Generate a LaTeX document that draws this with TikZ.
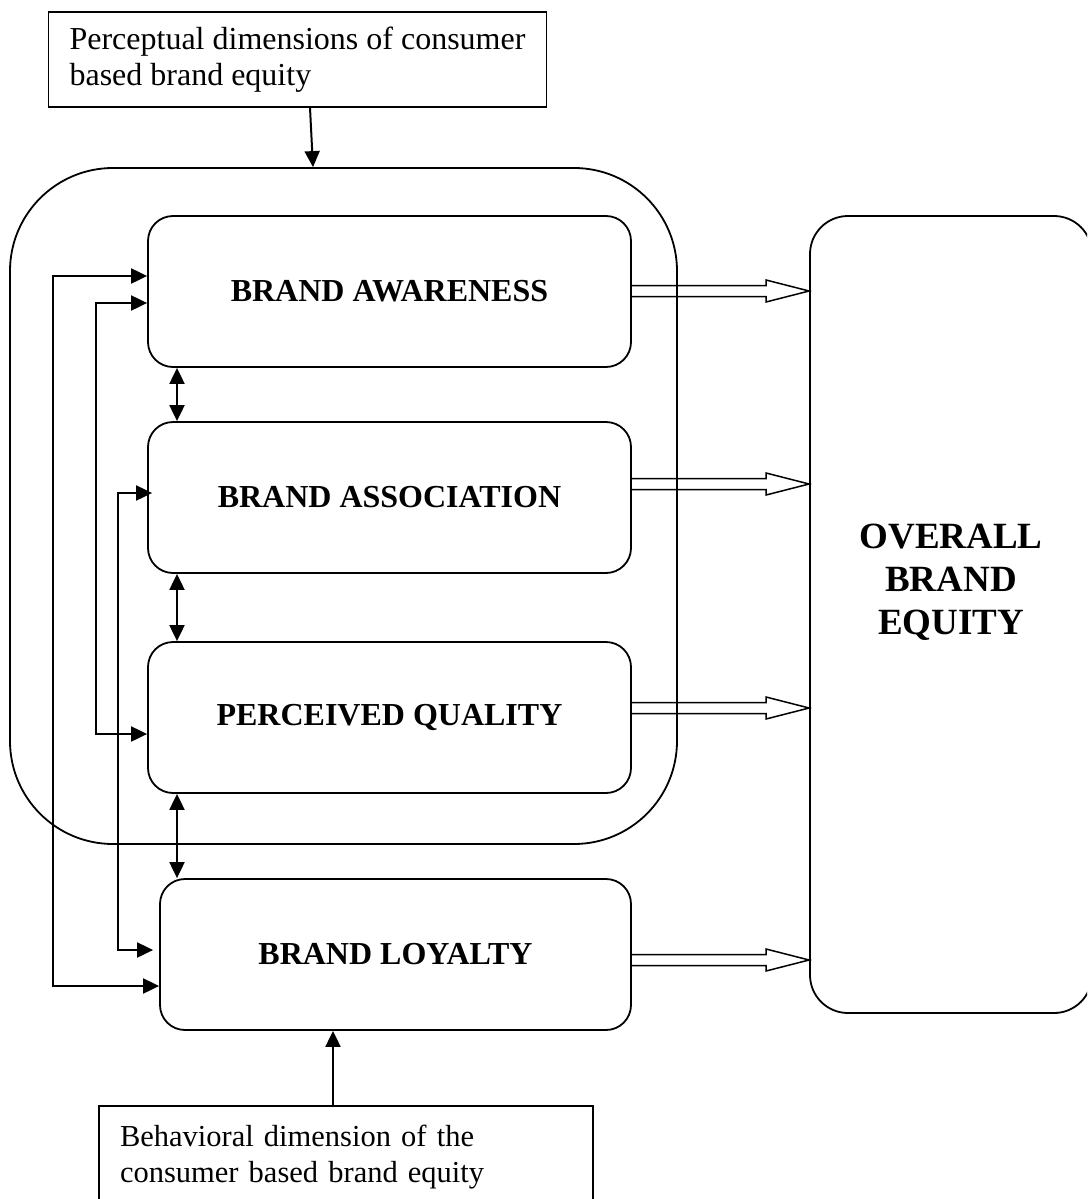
\documentclass[tikz,border=0pt]{standalone}
\usepackage{fontspec}
\setmainfont{Liberation Serif}
\usetikzlibrary{arrows.meta}
\tikzset{
  dim/.style={draw, line width=1.7pt, align=left, inner xsep=21pt, inner ysep=0pt,
    font=\fontsize{32}{36}\selectfont},
  dimbox/.style={draw, line width=1.8pt, rounded corners=25pt, inner sep=0pt,
    font=\bfseries\fontsize{32}{38}\selectfont, minimum width=483pt, minimum height=151pt},
  arr/.style={line width=2pt, -{Triangle[length=16pt,width=15pt]}},
  dbl/.style={line width=2pt, {Triangle[length=16pt,width=15pt]}-{Triangle[length=16pt,width=15pt]}},
  blkst/.style={line width=1.5pt, line join=miter},
}
\newcommand\blkarrow[3]{%
  \draw[blkst] (#1.east |- 0,#3-5.5) -- (766,#3-5.5) -- (766,#3-11) -- (#2.west |- 0,#3)
     -- (766,#3+11) -- (766,#3+5.5) -- (#1.east |- 0,#3+5.5);}
\begin{document}
\begin{tikzpicture}[x=1pt,y=-1pt]
\useasboundingbox (0,0) rectangle (1087,1199);
\fill[white] (0,0) rectangle (1087,1199);
\clip (0,0) rectangle (1087,1199);

% outer container
\node[draw, line width=1.8pt, rounded corners=103pt, minimum width=667pt, minimum height=676pt, inner sep=0pt]
  (outer) at (343.5,506) {};

% dimension boxes
\node[dimbox] (aw) at (389.5,291.5) {BRAND AWARENESS};
\node[dimbox] (as) at (389.5,497.5) {BRAND ASSOCIATION};
\node[dimbox] (pq) at (389.5,717.5) {PERCEIVED QUALITY};
\node[dimbox, minimum width=471pt] (lo) at (395.5,954.5) {BRAND LOYALTY};

% overall brand equity
\node[draw, line width=1.8pt, rounded corners=38pt, minimum width=282pt, minimum height=797pt, inner sep=0pt]
  (ov) at (951,614.5) {};
\node[align=center, font=\bfseries\fontsize{37}{43}\selectfont] (ovtext) at (951,582)
  {OVERALL\\BRAND\\EQUITY};

% text boxes
\node[dim, minimum width=497pt, minimum height=95pt] (top) at (297.5,59.5)
  {Perceptual dimensions of consumer\\based brand equity};
\node[dim, text width=452pt, minimum height=102pt, font=\fontsize{30.5}{36}\selectfont] (bot) at (346,1157)
  {Behavioral dimension of the\\consumer based brand equity};

% arrows from text boxes
\draw[arr] (top.south -| 310,0) -- (outer.north -| 313,0);
\draw[arr] (bot.north -| 333,0) -- (lo.south -| 333,0);

% vertical two-way arrows
\draw[dbl] (aw.south -| 177,0) -- (as.north -| 177,0);
\draw[dbl] (as.south -| 177,0) -- (pq.north -| 177,0);
\draw[dbl] (pq.south -| 177,0) -- (lo.north -| 177,0);

% left feedback connectors
\draw[dbl] (aw.west |- 0,276) -| (53,986) -- (lo.west |- 0,986);
\draw[dbl] (aw.west |- 0,303) -| (96,734) -- (pq.west |- 0,734);
\draw[dbl, shorten <=-5pt, shorten >=6pt] (as.west |- 0,493) -| (118,950) -- (lo.west |- 0,950);

% block arrows to overall brand equity
\blkarrow{aw}{ov}{291}
\blkarrow{as}{ov}{484}
\blkarrow{pq}{ov}{708}
\blkarrow{lo}{ov}{960}
\end{tikzpicture}
\end{document}
